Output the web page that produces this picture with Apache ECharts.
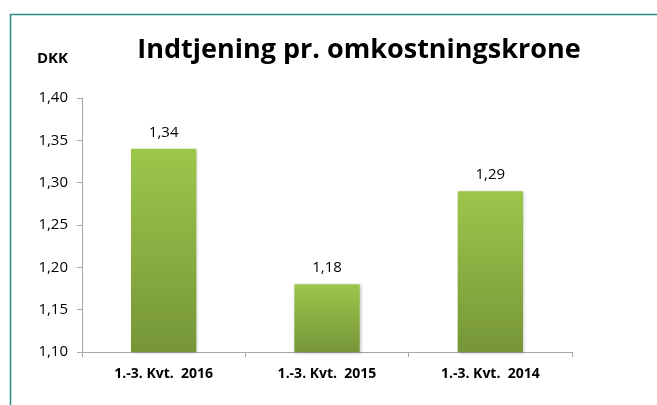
<!DOCTYPE html>
<html>
<head>
<meta charset="utf-8">
<script src="https://cdn.jsdelivr.net/npm/echarts@6/dist/echarts.min.js"></script>
<style>
  html, body { margin: 0; padding: 0; background: #fff; }
  #chart { width: 657px; height: 405px; }
</style>
</head>
<body>
<div id="chart"></div>
<script>
var categories = ['1.-3. Kvt.  2016', '1.-3. Kvt.  2015', '1.-3. Kvt.  2014'];
var values = [1.34, 1.18, 1.29];
var yMin = 1.10;
var yMax = 1.40;
var yStep = 0.05;

var myChart = echarts.init(document.getElementById('chart'));

function comma(v, digits) {
  return v.toFixed(digits).replace('.', ',');
}

var option = {
  animation: false,
  textStyle: { fontFamily: 'Open Sans' },
  graphic: [
    {
      type: 'rect',
      shape: { x: 10.5, y: 14.5, width: 700, height: 450 },
      style: { fill: 'none', stroke: '#2f8a8a', lineWidth: 1.5 }
    },
    {
      type: 'text',
      left: 37, top: 51,
      style: { text: 'DKK', font: 'bold 15px "Open Sans"', fill: '#000' }
    }
  ],
  title: {
    text: 'Indtjening pr. omkostningskrone',
    left: 354,
    textAlign: 'center',
    top: 32,
    textStyle: { fontSize: 27, fontWeight: 'bold', color: '#000', fontFamily: 'Open Sans' }
  },
  grid: { left: 82, right: 85, top: 98, bottom: 53 },
  xAxis: {
    type: 'category',
    data: categories,
    axisLine: { lineStyle: { color: '#a6a6a6' } },
    axisTick: { show: true, length: 5, lineStyle: { color: '#a6a6a6' } },
    axisLabel: { color: '#000', fontWeight: 'bold', fontSize: 14, margin: 15 }
  },
  yAxis: {
    type: 'value',
    min: yMin,
    max: yMax,
    interval: yStep,
    splitLine: { show: false },
    axisLine: { show: true, lineStyle: { color: '#a6a6a6' } },
    axisTick: { show: true, length: 5, lineStyle: { color: '#a6a6a6' } },
    axisLabel: {
      color: '#000', fontSize: 15, margin: 14,
      formatter: function (v) { return comma(v, 2); }
    }
  },
  series: [
    {
      type: 'bar',
      data: values,
      barWidth: '40%',
      itemStyle: {
        color: new echarts.graphic.LinearGradient(0, 0, 0, 1, [
          { offset: 0, color: '#9dc64b' },
          { offset: 1, color: '#769638' }
        ]),
        shadowColor: 'rgba(0,0,0,0.25)',
        shadowBlur: 3,
        shadowOffsetX: 1,
        shadowOffsetY: 1
      },
      label: {
        show: true,
        position: 'top',
        distance: 9,
        color: '#000',
        fontSize: 15,
        formatter: function (p) { return comma(p.value, 2); }
      }
    }
  ]
};

myChart.setOption(option);
</script>
</body>
</html>
